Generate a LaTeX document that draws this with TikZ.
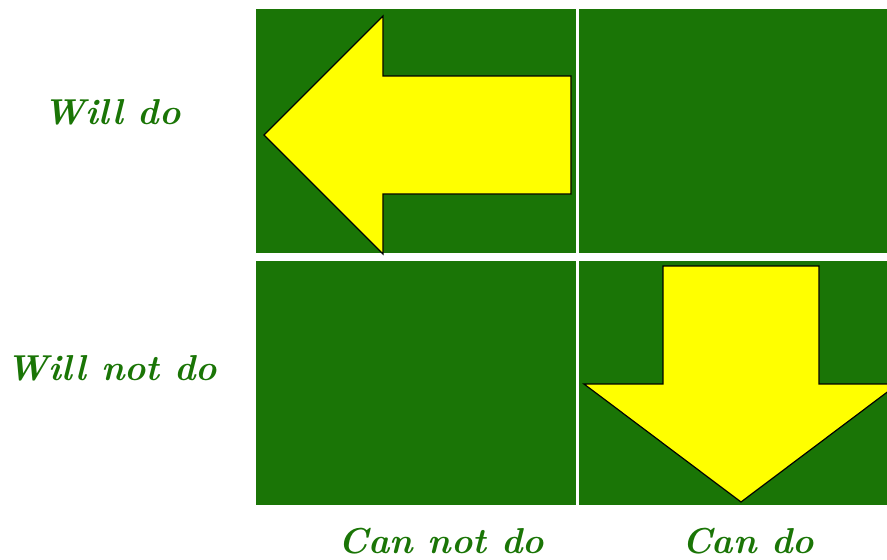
\documentclass[tikz,border=0pt]{standalone}
\usepackage{fontspec}
\usepackage{xcolor}
\usepackage{tikz}
\usetikzlibrary{positioning,calc}
\definecolor{fieldgreen}{RGB}{26,117,6}
\definecolor{signyellow}{RGB}{255,255,0}
\tikzset{
  field/.style={rectangle,fill=fieldgreen,draw=none,inner sep=0pt,anchor=north west},
  bigarrow/.style={fill=signyellow,draw=black,line width=1.2pt,line join=miter},
  axislabel/.style={text=fieldgreen,font=\fontsize{36}{38}\selectfont\bfseries\itshape,inner sep=0pt,anchor=base}
}
\begin{document}
\begin{tikzpicture}[x=1pt,y=-1pt]

\useasboundingbox (0,0) rectangle (887,560);
\clip (0,0) rectangle (887,560);

% quadrants
\node[field,minimum width=320pt,minimum height=244pt] (willcannot) at (256,9) {};
\node[field,minimum width=320pt,minimum height=244pt] (willcan)    at (579,9) {};
\node[field,minimum width=320pt,minimum height=244pt] (notcannot)  at (256,261) {};
\node[field,minimum width=320pt,minimum height=244pt] (notcan)     at (579,261) {};

% arrow pointing left
\draw[bigarrow] (264,135) -- (383,16) -- (383,76) -- (571,76)
  -- (571,194) -- (383,194) -- (383,254) -- cycle;

% arrow pointing down
\draw[bigarrow] (741,502) -- (584,384) -- (663,384) -- (663,266)
  -- (819,266) -- (819,384) -- (898,384) -- cycle;

% labels
\node[axislabel] (willdo)    at (112,124) {Will do};
\node[axislabel] (willnotdo) at (112,380) {Will not do};
\node[axislabel] (cannotdo)  at (441,553) {Can not do};
\node[axislabel] (cando)     at (748,553) {Can do};

\end{tikzpicture}
\end{document}
